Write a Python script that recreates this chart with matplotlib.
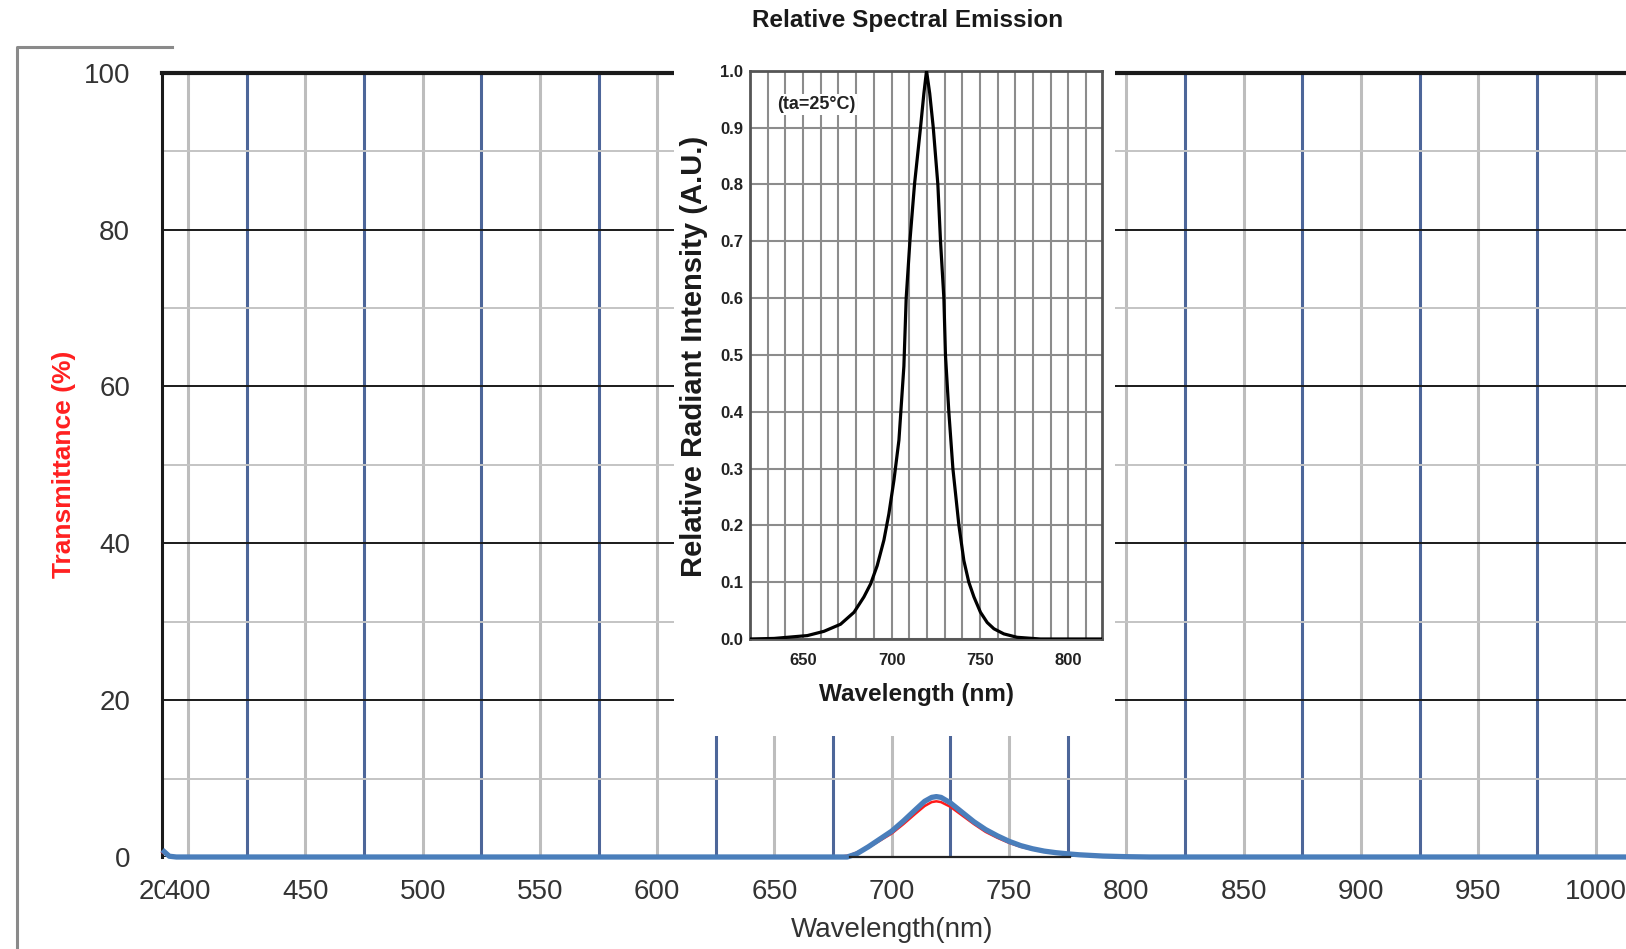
import matplotlib
matplotlib.use("Agg")
import matplotlib.pyplot as plt
from matplotlib.lines import Line2D
from matplotlib.ticker import MultipleLocator

# ── data ──────────────────────────────────────────────────────────────────────
blue_wl = [389, 392, 395, 681, 685, 690, 695, 700, 705, 710, 714, 717, 719, 721,
           725, 730, 735, 740, 745, 750, 755, 760, 765, 770, 775, 780, 790, 800,
           810, 1013]
blue_tr = [0.9, 0.1, 0.0, 0.0, 0.4, 1.3, 2.3, 3.3, 4.6, 6.0, 7.1, 7.6, 7.7, 7.6,
           6.9, 5.7, 4.5, 3.5, 2.7, 2.0, 1.45, 1.05, 0.75, 0.55, 0.4, 0.28, 0.12,
           0.04, 0.0, 0.0]

red_wl = [389, 392, 395, 677, 682, 690, 695, 700, 705, 710, 714, 717, 719, 721,
          725, 730, 735, 740, 745, 750, 755, 760, 765, 770, 775, 780, 790, 800,
          810, 1013]
red_tr = [0.6, 0.1, 0.0, 0.0, 0.2, 1.2, 2.1, 3.0, 4.2, 5.5, 6.5, 7.0, 7.1, 7.0,
          6.4, 5.3, 4.2, 3.2, 2.45, 1.8, 1.3, 0.95, 0.68, 0.5, 0.36, 0.25, 0.1,
          0.03, 0.0, 0.0]

black_wl = [682, 776]
black_tr = [0.0, 0.0]

ins_wl = [620, 633.6, 652.4, 661.8, 671.2, 678.8, 684.4, 688.2, 691.9, 695.7,
          698.5, 701.4, 704.2, 707.0, 708.3, 710.4, 713.0, 716.4, 718.3, 719.8,
          721.6, 723.6, 726.2, 727.7, 729.6, 730.5, 732.4, 734.7, 738.1, 740.9,
          743.7, 746.6, 750.3, 754.1, 757.9, 763.5, 771.0, 784.2, 819]
ins_rel = [0.0, 0.001, 0.006, 0.0135, 0.026, 0.047, 0.074, 0.097, 0.129, 0.174,
           0.22, 0.28, 0.35, 0.48, 0.60, 0.70, 0.80, 0.90, 0.96, 1.00,
           0.96, 0.90, 0.80, 0.70, 0.60, 0.50, 0.40, 0.30, 0.20, 0.138,
           0.10, 0.074, 0.047, 0.029, 0.018, 0.009, 0.003, 0.0, 0.0]

main_xticks = list(range(400, 1001, 50))
main_yticks = list(range(0, 101, 20))
ins_xticks = [650, 700, 750, 800]
ins_yticks = [round(0.1 * i, 1) for i in range(11)]

# ── figure ────────────────────────────────────────────────────────────────────
W, H = 1626, 949
fig = plt.figure(figsize=(W / 100, H / 100), dpi=100)

MAIN_FONT = ["Liberation Sans", "DejaVu Sans"]
NARROW = ["Liberation Sans Narrow", "Liberation Sans", "DejaVu Sans"]


def frac(x0, y0, x1, y1):
    """pixel box (top-left origin) -> figure fraction rect"""
    return [x0 / W, 1 - y1 / H, (x1 - x0) / W, (y1 - y0) / H]


# main transmittance chart
ax = fig.add_axes(frac(162, 72.7, W, 857))
ax.set_xlim(388.9, 1013)
ax.set_ylim(0, 100)

ax.set_xticks(main_xticks)
ax.xaxis.set_minor_locator(MultipleLocator(25))
ax.set_yticks(main_yticks)
ax.yaxis.set_minor_locator(MultipleLocator(10))
ax.tick_params(which="both", length=0)
ax.tick_params(axis="y", pad=23, labelsize=20, labelcolor="#333333")
ax.tick_params(axis="x", pad=16, labelsize=20, labelcolor="#333333")
for lab in ax.get_xticklabels() + ax.get_yticklabels():
    lab.set_family(MAIN_FONT)
ax.get_xticklabels()[0].set_bbox(dict(fc="white", ec="none", pad=0.3))

ax.set_axisbelow(True)
ax.xaxis.grid(True, which="major", color="#bdbdbd", lw=2.2)
ax.xaxis.grid(True, which="minor", color="#4d6699", lw=2.2)
ax.yaxis.grid(True, which="major", color="#1a1a1a", lw=1.4)
ax.yaxis.grid(True, which="minor", color="#c4c4c4", lw=1.4)

for s in ("right", "bottom"):
    ax.spines[s].set_visible(False)
ax.spines["top"].set_linewidth(3.0)
ax.spines["top"].set_color("#1a1a1a")
ax.spines["left"].set_linewidth(2.2)
ax.spines["left"].set_color("#1a1a1a")

ax.plot(red_wl, red_tr, color="#ff1a1a", lw=1.8, zorder=3, clip_on=False)
ax.plot(blue_wl, blue_tr, color="#4a7ebb", lw=3.8, zorder=4, clip_on=False,
        solid_capstyle="butt")
ax.plot(black_wl, black_tr, color="#222222", lw=1.6, zorder=5, clip_on=False)

# the clipped "20" sitting under the 400 label
ax.annotate("20", xy=(385.5, 0), xycoords=ax.get_xaxis_transform(),
            xytext=(0, -16), textcoords="offset points", ha="center", va="top",
            fontsize=20, color="#333333", family=MAIN_FONT, zorder=0.1)

fig.text(892 / W, 1 - 930 / H, "Wavelength(nm)", ha="center", va="center",
         fontsize=20, color="#333333", family=MAIN_FONT)
fig.text(64 / W, 1 - 464 / H, "Transmittance (%)", ha="center", va="center",
         rotation=90, fontsize=19, fontweight="bold", color="#ff2020",
         family=MAIN_FONT)

# outer frame stub of the original chart area
fig.add_artist(Line2D([16.7 / W, 16.7 / W, 171.7 / W],
                      [0, 1 - 46.7 / H, 1 - 46.7 / H],
                      color="#8a8a8a", lw=2.2))

# white block under the pasted inset
cover = fig.add_axes(frac(674, 0, 1115, 736))
cover.set_facecolor("white")
cover.set_xticks([])
cover.set_yticks([])
for s in cover.spines.values():
    s.set_visible(False)

# inset: relative spectral emission
ins = fig.add_axes(frac(750, 70.7, 1102, 639))
ins.set_xlim(620, 819)
ins.set_ylim(0, 1.0)
ins.set_xticks(ins_xticks)
ins.xaxis.set_minor_locator(MultipleLocator(10))
ins.set_yticks(ins_yticks)
ins.set_yticklabels([f"{v:.1f}" for v in ins_yticks])
ins.tick_params(which="both", length=0)
ins.tick_params(axis="x", pad=10, labelsize=12, labelcolor="#222222")
ins.tick_params(axis="y", pad=5, labelsize=12, labelcolor="#222222")
for lab in ins.get_xticklabels() + ins.get_yticklabels():
    lab.set_family(NARROW)
    lab.set_fontweight("bold")
ins.grid(True, which="both", color="#8c8c8c", lw=1.5)
ins.set_axisbelow(True)
for s in ins.spines.values():
    s.set_color("#555555")
    s.set_linewidth(2.0)

ins.plot(ins_wl, ins_rel, color="black", lw=2.3, zorder=3,
         solid_joinstyle="round")
ins.text(0.1875, 0.94, "(ta=25°C)", transform=ins.transAxes, ha="center",
         va="center", fontsize=13, fontweight="bold", family=NARROW,
         color="#222222",
         bbox=dict(fc="white", ec="none", pad=1.5))

fig.text(908 / W, 1 - 20 / H, "Relative Spectral Emission", ha="center",
         va="center", fontsize=17.5, fontweight="bold", family=NARROW,
         color="#1a1a1a")
fig.text(916 / W, 1 - 695 / H, "Wavelength (nm)", ha="center", va="center",
         fontsize=17.5, fontweight="bold", family=NARROW, color="#1a1a1a")
fig.text(694 / W, 1 - 356 / H, "Relative Radiant Intensity (A.U.)",
         ha="center", va="center", rotation=90, fontsize=21,
         fontweight="bold", family=MAIN_FONT, color="#1a1a1a")

fig.savefig("out.png", dpi=100, facecolor="white")
